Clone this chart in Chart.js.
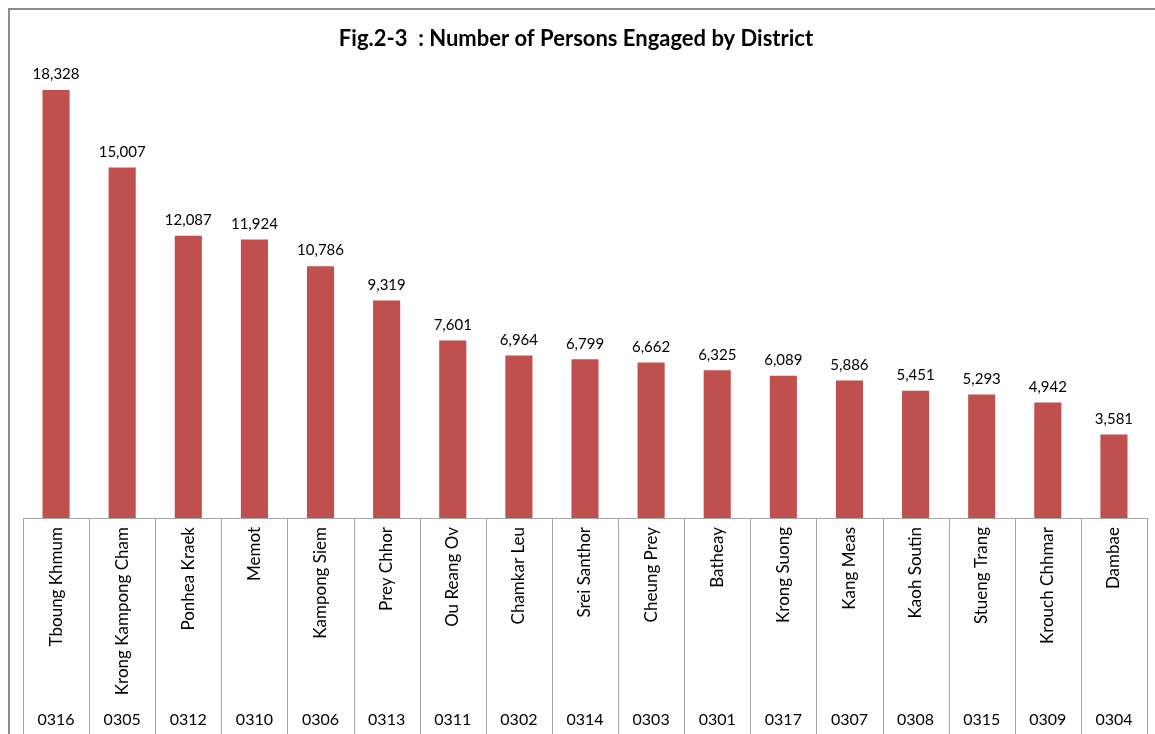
<!DOCTYPE html>
<html>
<head>
<meta charset="utf-8">
<script src="https://cdn.jsdelivr.net/npm/chart.js@4"></script>
<style>
    html, body { margin: 0; padding: 0; background: #fff; overflow: hidden; }
    #frame { position: absolute; left: 8px; top: 8px; width: 1170px; height: 760px; border: 2px solid #8c8c8c; }
    #wrap { position: absolute; left: 0; top: 0; width: 1155px; height: 734px; }
</style>
</head>
<body>
<div id="frame"></div>
<div id="wrap"><canvas id="myChart" width="1155" height="734"></canvas></div>
<script>
const districts = ['Tboung Khmum', 'Krong Kampong Cham', 'Ponhea Kraek', 'Memot', 'Kampong Siem', 'Prey Chhor',
    'Ou Reang Ov', 'Chamkar Leu', 'Srei Santhor', 'Cheung Prey', 'Batheay', 'Krong Suong', 'Kang Meas',
    'Kaoh Soutin', 'Stueng Trang', 'Krouch Chhmar', 'Dambae'];
const codes = ['0316', '0305', '0312', '0310', '0306', '0313', '0311', '0302', '0314', '0303', '0301',
    '0317', '0307', '0308', '0315', '0309', '0304'];
const persons = [18328, 15007, 12087, 11924, 10786, 9319, 7601, 6964, 6799, 6662, 6325, 6089, 5886,
    5451, 5293, 4942, 3581];
const chartTitle = 'Fig.2-3  : Number of Persons Engaged by District';

const bodyFont = 'Lato, "Open Sans", sans-serif';

// title, value labels above bars + two-level category axis below
const labelsPlugin = {
    id: 'labelsPlugin',
    afterDatasetsDraw(chart) {
        const ctx = chart.ctx;
        const meta = chart.getDatasetMeta(0);
        ctx.save();
        ctx.fillStyle = '#000';
        ctx.font = '15px ' + bodyFont;
        ctx.textAlign = 'center';
        ctx.textBaseline = 'bottom';
        meta.data.forEach((bar, i) => {
            ctx.fillText(persons[i].toLocaleString('en-US'), bar.x, bar.y - 8);
        });
        ctx.font = 'bold 22px ' + bodyFont;
        ctx.textBaseline = 'middle';
        ctx.fillText(chartTitle, 576, 39);
        ctx.restore();
    },
    afterDraw(chart) {
        const ctx = chart.ctx;
        const xs = chart.scales.x;
        const area = chart.chartArea;
        const step = xs.getPixelForValue(1) - xs.getPixelForValue(0);
        const bottom = chart.height;
        ctx.save();
        ctx.strokeStyle = '#a6a6a6';
        ctx.lineWidth = 1;
        ctx.beginPath();
        ctx.moveTo(xs.getPixelForValue(0) - step / 2, area.bottom + 0.5);
        ctx.lineTo(xs.getPixelForValue(districts.length - 1) + step / 2, area.bottom + 0.5);
        for (let i = 0; i <= districts.length; i++) {
            const x = Math.round(xs.getPixelForValue(i) - step / 2) + 0.5;
            ctx.moveTo(x, area.bottom);
            ctx.lineTo(x, bottom);
        }
        ctx.stroke();

        ctx.fillStyle = '#000';
        districts.forEach((name, i) => {
            const x = xs.getPixelForValue(i);
            ctx.save();
            ctx.translate(x, area.bottom + 9);
            ctx.rotate(-Math.PI / 2);
            ctx.font = '17px ' + bodyFont;
            ctx.textAlign = 'right';
            ctx.textBaseline = 'middle';
            ctx.fillText(name, 0, 0);
            ctx.restore();

            ctx.font = '16px ' + bodyFont;
            ctx.textAlign = 'center';
            ctx.textBaseline = 'middle';
            ctx.fillText(codes[i], x, 720);
        });
        ctx.restore();
    }
};

var ctx = document.getElementById('myChart').getContext('2d');
var myChart = new Chart(ctx, {
    type: 'bar',
    data: {
        labels: districts,
        datasets: [
            {
                label: 'Number of Persons Engaged',
                data: persons,
                backgroundColor: '#C0504D',
                borderWidth: 0,
                barPercentage: 0.41,
                categoryPercentage: 1
            }
        ]
    },
    options: {
        responsive: false,
        animation: false,
        layout: {
            padding: { left: 23, right: 8, top: 51, bottom: 216 }
        },
        plugins: {
            legend: { display: false },
            tooltip: { enabled: false },
            title: { display: false }
        },
        scales: {
            x: {
                display: false
            },
            y: {
                display: false,
                min: 0,
                max: 20000
            }
        }
    },
    plugins: [labelsPlugin]
});
</script>
</body>
</html>
